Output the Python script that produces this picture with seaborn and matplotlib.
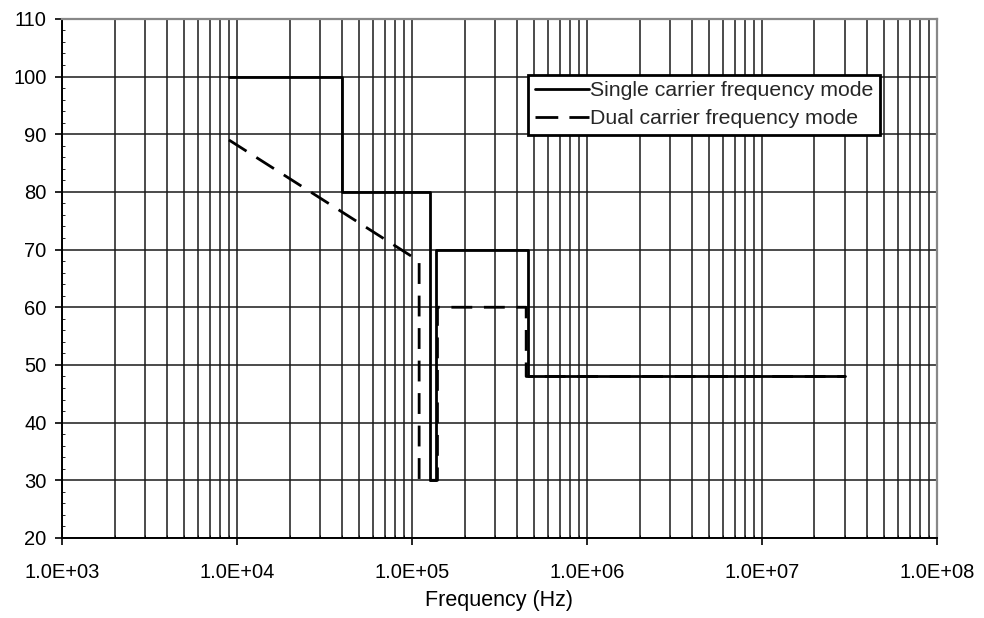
import matplotlib
matplotlib.use("Agg")
import matplotlib.pyplot as plt
import seaborn as sns
import pandas as pd
from matplotlib.ticker import FixedLocator, FuncFormatter, NullFormatter, MultipleLocator

single_freq = [9e3, 4e4, 4e4, 1.27e5, 1.27e5, 1.37e5, 1.37e5, 4.6e5, 4.6e5, 3e7]
single_level = [100, 100, 80, 80, 30, 30, 70, 70, 48, 48]
dual_freq = [9e3, 1.1e5, 1.1e5, 1.4e5, 1.4e5, 4.5e5, 4.5e5, 3e7]
dual_level = [89, 68, 30, 30, 60, 60, 48, 48]
x_ticks = [1e3, 1e4, 1e5, 1e6, 1e7, 1e8]
x_tick_labels = ["1.0E+03", "1.0E+04", "1.0E+05", "1.0E+06", "1.0E+07", "1.0E+08"]
y_ticks = [20, 30, 40, 50, 60, 70, 80, 90, 100, 110]

sns.set_theme(style="white")
plt.rcParams['font.family'] = ['Liberation Sans', 'DejaVu Sans']

fig = plt.figure(figsize=(9.84, 6.18), dpi=100)
ax = fig.add_axes([0.063, 0.1295, 0.889, 0.840])

df_s = pd.DataFrame({"f": single_freq, "v": single_level})
df_d = pd.DataFrame({"f": dual_freq, "v": dual_level})

sns.lineplot(data=df_d, x="f", y="v", sort=False, estimator=None, ax=ax, color="black", lw=2.0,
             label="Dual carrier frequency mode", zorder=4)
ax.lines[-1].set_dashes((7.5, 4.2))
sns.lineplot(data=df_s, x="f", y="v", sort=False, estimator=None, ax=ax, color="black", lw=2.0,
             label="Single carrier frequency mode", zorder=5)

ax.set_xscale("log")
ax.set_xlim(1e3, 1e8)
ax.set_ylim(20, 110)

minor = [m * 10**e for e in range(3, 8) for m in range(2, 10)]
ax.xaxis.set_major_locator(FixedLocator(x_ticks))
ax.xaxis.set_major_formatter(FuncFormatter(lambda v, p: x_tick_labels[x_ticks.index(v)] if v in x_ticks else ""))
ax.xaxis.set_minor_locator(FixedLocator(minor))
ax.xaxis.set_minor_formatter(NullFormatter())
ax.yaxis.set_major_locator(FixedLocator(y_ticks))
ax.yaxis.set_minor_locator(MultipleLocator(2))

ax.grid(True, which="major", axis="both", color="#1a1a1a", lw=1.1)
ax.grid(True, which="minor", axis="x", color="#1a1a1a", lw=1.1)

ax.tick_params(axis="both", which="major", direction="out", length=5, width=1.2, color="black",
               labelsize=14.5, labelcolor="black", bottom=True, left=True)
ax.tick_params(axis="x", which="major", pad=13)
ax.tick_params(axis="y", which="major", pad=6)
ax.tick_params(axis="y", which="minor", direction="in", length=2.5, width=0.6, color="black", left=True)
ax.tick_params(axis="x", which="minor", direction="in", length=2.5, width=0.6, color="black", bottom=True)

for s in ["left", "bottom"]:
    ax.spines[s].set_color("black")
    ax.spines[s].set_linewidth(1.4)
for s in ["top", "right"]:
    ax.spines[s].set_color("#888888")
    ax.spines[s].set_linewidth(1.6)

ax.set_xlabel("Frequency (Hz)", fontsize=15.5, color="black", labelpad=6)
ax.set_ylabel("")

handles, labels = ax.get_legend_handles_labels()
order = [labels.index("Single carrier frequency mode"), labels.index("Dual carrier frequency mode")]
leg = ax.legend([handles[i] for i in order], [labels[i] for i in order],
                loc="upper left", bbox_to_anchor=(0.533, 0.892), fontsize=15.3,
                frameon=True, fancybox=False, edgecolor="black", framealpha=1,
                handlelength=2.55, handletextpad=0.05, borderpad=0.3, labelspacing=0.42,
                borderaxespad=0)
leg.get_frame().set_linewidth(2.0)
leg.legend_handles[1].set_dashes((8.2, 4))

fig.savefig("out.png", dpi=100)
